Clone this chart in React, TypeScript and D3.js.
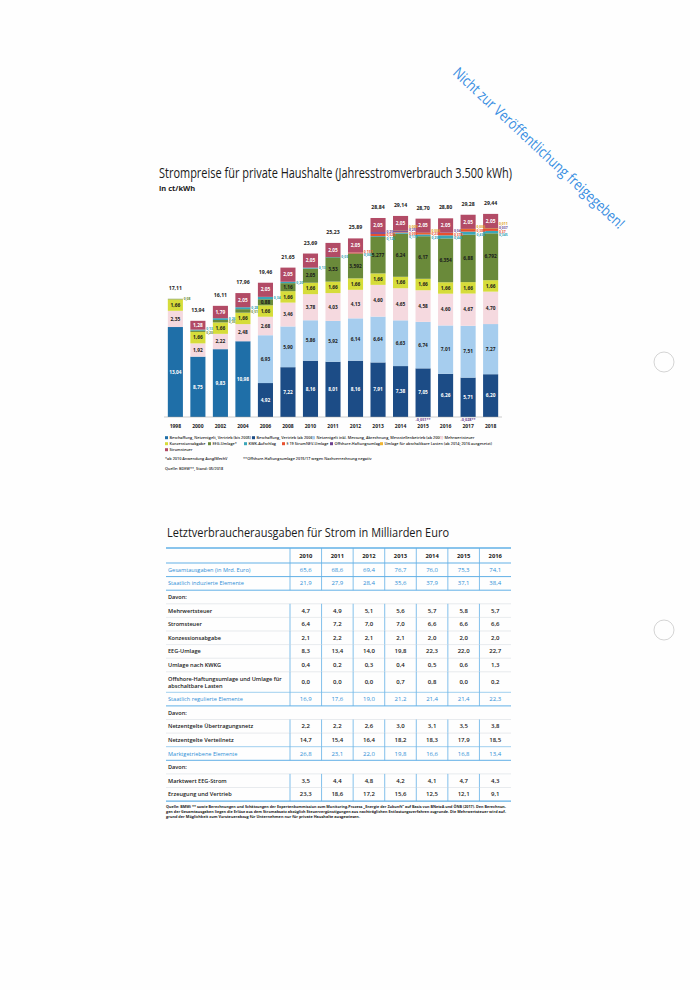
import React from "react";
import * as d3 from "d3";

// ---------- Chart data (ct/kWh) ----------
const years = ["1998","2000","2002","2004","2006","2008","2010","2011","2012","2013","2014","2015","2016","2017","2018"];
const basisBis2005 = [13.04, 8.75, 9.83, 10.98, 0, 0, 0, 0, 0, 0, 0, 0, 0, 0, 0];
const beschaffungAb2006 = [0, 0, 0, 0, 4.92, 7.22, 8.16, 8.01, 8.16, 7.91, 7.38, 7.05, 6.26, 5.71, 6.2];
const netzentgeltAb2006 = [0, 0, 0, 0, 6.93, 5.9, 5.86, 5.92, 6.14, 6.64, 6.63, 6.74, 7.01, 7.51, 7.27];
const mehrwertsteuer = [2.35, 1.92, 2.22, 2.48, 2.68, 3.46, 3.78, 4.03, 4.13, 4.6, 4.65, 4.58, 4.6, 4.67, 4.7];
const konzessionsabgabe = [1.66, 1.66, 1.66, 1.66, 1.66, 1.66, 1.66, 1.66, 1.66, 1.66, 1.66, 1.66, 1.66, 1.66, 1.66];
const eegUmlage = [0.08, 0.2, 0.35, 0.51, 0.88, 1.16, 2.05, 3.53, 3.592, 5.277, 6.24, 6.17, 6.354, 6.88, 6.792];
const kwkAufschlag = [0, 0.13, 0.26, 0.28, 0.34, 0.2, 0.13, 0.03, 0.002, 0.126, 0.178, 0.254, 0.445, 0.438, 0.345];
const stromNevUmlage = [0, 0, 0, 0, 0, 0, 0, 0, 0.151, 0.329, 0.092, 0.237, 0.378, 0.388, 0.37];
const offshoreUmlage = [0, 0, 0, 0, 0, 0, 0, 0, 0, 0.25, 0.25, -0.051, 0.04, -0.028, 0.037];
const abschaltbareLasten = [0, 0, 0, 0, 0, 0, 0, 0, 0, 0, 0.009, 0.006, 0, 0.006, 0.011];
const stromsteuer = [0, 1.28, 1.79, 2.05, 2.05, 2.05, 2.05, 2.05, 2.05, 2.05, 2.05, 2.05, 2.05, 2.05, 2.05];
const totals = [17.11, 13.94, 16.11, 17.96, 19.46, 21.65, 23.69, 25.23, 25.89, 28.84, 29.14, 28.7, 28.8, 29.28, 29.44];

const seriesDefs = [
  { label: "Beschaffung, Netzentgelt, Vertrieb (bis 2005)", values: basisBis2005, color: "#1f6fa8", text: "#ffffff" },
  { label: "Beschaffung, Vertrieb (ab 2006)", values: beschaffungAb2006, color: "#1c4c86", text: "#ffffff" },
  { label: "Netzentgelt inkl. Messung, Abrechnung, Messstellenbetrieb (ab 2006)", values: netzentgeltAb2006, color: "#a6cdee", text: "#1a1a1a" },
  { label: "Mehrwertsteuer", values: mehrwertsteuer, color: "#f5d9df", text: "#1a1a1a" },
  { label: "Konzessionsabgabe", values: konzessionsabgabe, color: "#d6dc3a", text: "#1a1a1a" },
  { label: "EEG-Umlage*", values: eegUmlage, color: "#6a8a3a", text: "#1a1a1a", side: "#6a8a3a" },
  { label: "KWK-Aufschlag", values: kwkAufschlag, color: "#3ba6b8", text: "#1a1a1a", side: "#2f9fb3" },
  { label: "§ 19 StromNEV-Umlage", values: stromNevUmlage, color: "#e8502f", text: "#1a1a1a", side: "#e8502f" },
  { label: "Offshore-Haftungsumlage", values: offshoreUmlage, color: "#6b3f8f", text: "#1a1a1a", side: "#6b3f8f" },
  { label: "Umlage für abschaltbare Lasten (ab 2014; 2016 ausgesetzt)", values: abschaltbareLasten, color: "#f0b531", text: "#1a1a1a", side: "#e0a020" },
  { label: "Stromsteuer", values: stromsteuer, color: "#b24b66", text: "#ffffff" },
];

const legendRows = [[0, 1, 2, 3], [4, 5, 6, 7, 8, 9], [10]];
const legendX = [[165, 252, 312, 440], [165, 208, 244, 282, 330, 380], [165]];

// ---------- Table data (Mrd. Euro) ----------
const tableYears = ["2010", "2011", "2012", "2013", "2014", "2015", "2016"];
const gesamtausgaben = [65.6, 68.6, 69.4, 76.7, 76.0, 75.3, 74.1];
const staatlichInduziert = [21.9, 27.9, 28.4, 35.6, 37.9, 37.1, 38.4];
const mwstMrd = [4.7, 4.9, 5.1, 5.6, 5.7, 5.8, 5.7];
const stromsteuerMrd = [6.4, 7.2, 7.0, 7.0, 6.6, 6.6, 6.6];
const konzessionMrd = [2.1, 2.2, 2.1, 2.1, 2.0, 2.0, 2.0];
const eegMrd = [8.3, 13.4, 14.0, 19.8, 22.3, 22.0, 22.7];
const kwkgMrd = [0.4, 0.2, 0.3, 0.4, 0.5, 0.6, 1.3];
const offshoreMrd = [0.0, 0.0, 0.0, 0.7, 0.8, 0.0, 0.2];
const staatlichReguliert = [16.9, 17.6, 19.0, 21.2, 21.4, 21.4, 22.3];
const uebertragungsnetz = [2.2, 2.2, 2.6, 3.0, 3.1, 3.5, 3.8];
const verteilnetz = [14.7, 15.4, 16.4, 18.2, 18.3, 17.9, 18.5];
const marktgetrieben = [26.8, 23.1, 22.0, 19.8, 16.6, 16.8, 13.4];
const marktwertEeg = [3.5, 4.4, 4.8, 4.2, 4.1, 4.7, 4.3];
const erzeugungVertrieb = [23.3, 18.6, 17.2, 15.6, 12.5, 12.1, 9.1];

type Row = { label: string[]; values?: number[]; kind: "header" | "blue" | "davon" | "normal" };
const tableRows: Row[] = [
  { label: [""], kind: "header" },
  { label: ["Gesamtausgaben (in Mrd. Euro)"], values: gesamtausgaben, kind: "blue" },
  { label: ["Staatlich induzierte Elemente"], values: staatlichInduziert, kind: "blue" },
  { label: ["Davon:"], kind: "davon" },
  { label: ["Mehrwertsteuer"], values: mwstMrd, kind: "normal" },
  { label: ["Stromsteuer"], values: stromsteuerMrd, kind: "normal" },
  { label: ["Konzessionsabgabe"], values: konzessionMrd, kind: "normal" },
  { label: ["EEG-Umlage"], values: eegMrd, kind: "normal" },
  { label: ["Umlage nach KWKG"], values: kwkgMrd, kind: "normal" },
  { label: ["Offshore-Haftungsumlage und Umlage für", "abschaltbare Lasten"], values: offshoreMrd, kind: "normal" },
  { label: ["Staatlich regulierte Elemente"], values: staatlichReguliert, kind: "blue" },
  { label: ["Davon:"], kind: "davon" },
  { label: ["Netzentgelte Übertragungsnetz"], values: uebertragungsnetz, kind: "normal" },
  { label: ["Netzentgelte Verteilnetz"], values: verteilnetz, kind: "normal" },
  { label: ["Marktgetriebene Elemente"], values: marktgetrieben, kind: "blue" },
  { label: ["Davon:"], kind: "davon" },
  { label: ["Marktwert EEG-Strom"], values: marktwertEeg, kind: "normal" },
  { label: ["Erzeugung und Vertrieb"], values: erzeugungVertrieb, kind: "normal" },
];

const sourceLines = [
  "Quelle: BMWi ** sowie Berechnungen und Schätzungen der Expertenkommission zum Monitoring-Prozess „Energie der Zukunft“ auf Basis von BNetzA und ÖNB (2017). Den Berechnun-",
  "gen der Gesamtausgaben liegen die Erlöse aus dem Stromabsatz abzüglich Steuervergünstigungen aus nachträglichen Entlastungsverfahren zugrunde. Die Mehrwertsteuer wird auf-",
  "grund der Möglichkeit zum Vorsteuerabzug für Unternehmen nur für private Haushalte ausgewiesen.",
];

const FONT = "'Open Sans', 'Noto Sans', sans-serif";

function fmtDe(v: number): string {
  const s = String(Math.abs(v));
  const dec = s.includes(".") ? s.split(".")[1].length : 0;
  const d = Math.max(2, dec);
  return (v < 0 ? "-" : "") + Math.abs(v).toFixed(d).replace(".", ",");
}
const fmt1 = (v: number) => v.toFixed(1).replace(".", ",");

export default function App() {
  const x = d3.scaleBand<string>().domain(years).range([164, 502]).paddingInner(0.33).paddingOuter(0.17);
  const y = d3.scaleLinear().domain([0, 30]).range([417, 210]);
  const bw = x.bandwidth();

  const rects: React.ReactNode[] = [];
  const labels: React.ReactNode[] = [];

  years.forEach((yr, i) => {
    const x0 = x(yr)!;
    let cum = 0;
    const small: { v: number; color: string; mid: number }[] = [];
    seriesDefs.forEach((s, si) => {
      const v = s.values[i];
      if (v > 0) {
        const y0 = cum, y1 = cum + v;
        cum = y1;
        rects.push(
          <rect key={`r-${i}-${si}`} x={x0} y={y(y1)} width={bw} height={Math.max(0.4, y(y0) - y(y1))} fill={s.color} />
        );
        if (v >= 0.6) {
          labels.push(
            <text key={`l-${i}-${si}`} x={x0 + bw / 2} y={(y(y0) + y(y1)) / 2 + 1.7} textAnchor="middle"
              fontSize={4.8} fontWeight={700} fill={s.text} fontFamily={FONT}>{fmtDe(v)}</text>
          );
        } else {
          small.push({ v, color: (s as any).side || s.color, mid: (y(y0) + y(y1)) / 2 });
        }
      } else if (v < 0) {
        labels.push(
          <text key={`n-${i}-${si}`} x={x0 + bw / 2} y={421} textAnchor="middle" fontSize={3.8} fontWeight={700}
            fill={(s as any).side || s.color} fontFamily={FONT}>{fmtDe(v) + "**"}</text>
        );
      }
    });
    if (small.length) {
      const center = d3.mean(small, (d) => d.mid)!;
      const n = small.length;
      small.slice().reverse().forEach((d, k) => {
        const yy = center - ((n - 1) * 3.6) / 2 + k * 3.6 + 1.3;
        labels.push(
          <text key={`s-${i}-${k}`} x={x0 + bw + 0.8} y={yy} fontSize={3.4} fontWeight={700} fill={d.color} fontFamily={FONT}>
            {fmtDe(d.v)}
          </text>
        );
      });
    }
    labels.push(
      <text key={`t-${i}`} x={x0 + bw / 2} y={y(totals[i]) - 9} textAnchor="middle" fontSize={5.2} fontWeight={700}
        fill="#222" fontFamily={FONT}>{fmtDe(totals[i])}</text>
    );
    labels.push(
      <text key={`y-${i}`} x={x0 + bw / 2} y={428} textAnchor="middle" fontSize={5} fontWeight={700} fill="#222" fontFamily={FONT}>{yr}</text>
    );
  });

  // table layout
  const rowHeights = tableRows.map((r) => (r.kind === "header" ? 15 : r.label.length > 1 ? 20.5 : 13.6));
  const tableTop = 548;
  const rowTops = [tableTop, ...Array.from(d3.cumsum(rowHeights)).map((h) => tableTop + h)];
  const cx = d3.scaleBand<string>().domain(tableYears).range([290, 511]);
  const blue = "#2f8fd6";
  const lineBlue = "#62b0e6";

  const tableEls: React.ReactNode[] = [];
  tableRows.forEach((r, ri) => {
    const top = rowTops[ri], bot = rowTops[ri + 1], mid = (top + bot) / 2;
    if (r.kind !== "davon") {
      [290, ...tableYears.map((t) => cx(t)! + cx.bandwidth())].forEach((lx, k) => {
        if (k < tableYears.length) tableEls.push(<line key={`v-${ri}-${k}`} x1={lx} x2={lx} y1={top} y2={bot} stroke={lineBlue} strokeWidth={0.8} />);
      });
    }
    const textColor = r.kind === "blue" ? blue : "#1a1a1a";
    r.label.forEach((ln, li) => {
      const ly = mid + 2 + (li - (r.label.length - 1) / 2) * 7;
      tableEls.push(<text key={`tl-${ri}-${li}`} x={168} y={ly} fontSize={5.6} fontWeight={r.kind === "blue" ? 400 : 600}
        fill={textColor} fontFamily={FONT}>{ln}</text>);
    });
    if (r.kind === "header") {
      tableYears.forEach((t) => tableEls.push(
        <text key={`th-${t}`} x={cx(t)! + cx.bandwidth() / 2} y={mid + 2} textAnchor="middle" fontSize={5.8} fontWeight={700} fill="#1a1a1a" fontFamily={FONT}>{t}</text>
      ));
    }
    if (r.values) {
      r.values.forEach((v, k) => tableEls.push(
        <text key={`tv-${ri}-${k}`} x={cx(tableYears[k])! + cx.bandwidth() / 2} y={mid + 2} textAnchor="middle" fontSize={6}
          fontWeight={r.kind === "blue" ? 400 : 600} fill={textColor} fontFamily={FONT}>{fmt1(v)}</text>
      ));
    }
    const isBlueBorder = r.kind === "blue" || ri === 0;
    tableEls.push(<line key={`h-${ri}`} x1={166} x2={511} y1={bot} y2={bot}
      stroke={r.kind === "blue" || (ri + 1 < tableRows.length && tableRows[ri + 1].kind === "blue") || ri === tableRows.length - 1 ? lineBlue : "#d8dde2"}
      strokeWidth={ri === tableRows.length - 1 ? 1.4 : isBlueBorder ? 1 : 0.6} />);
  });
  tableEls.push(<line key="htop" x1={166} x2={511} y1={tableTop} y2={tableTop} stroke={lineBlue} strokeWidth={1.4} />);

  return (
    <div style={{ position: "absolute", left: 0, top: 0 }}>
      <svg width={700} height={990} viewBox="0 0 700 990" style={{ display: "block", background: "#ffffff" }}>
        <rect x={0} y={0} width={700} height={990} fill="#fefefe" />
        {/* punch holes */}
        <circle cx={664} cy={362} r={10} fill="none" stroke="#c9c9c9" strokeWidth={0.8} />
        <circle cx={664} cy={630} r={10} fill="none" stroke="#c9c9c9" strokeWidth={0.8} />

        {/* watermark */}
        <text x={452} y={74} transform="rotate(43 452 74)" fontSize={15} fill="#3a8fe2" fontFamily={FONT}
          textLength={228} lengthAdjust="spacingAndGlyphs">
          Nicht zur Veröffentlichung freigegeben!
        </text>

        {/* chart title */}
        <text x={159} y={178} fontSize={14} fill="#1a1a1a" fontFamily={FONT} textLength={353} lengthAdjust="spacingAndGlyphs">
          Strompreise für private Haushalte (Jahresstromverbrauch 3.500 kWh)
        </text>
        <text x={159} y={191} fontSize={7.5} fontWeight={700} fill="#1a1a1a" fontFamily={FONT}>in ct/kWh</text>

        {rects}
        <line x1={164} x2={502} y1={y(0)} y2={y(0)} stroke="#999" strokeWidth={0.5} />
        {labels}

        {/* legend */}
        {legendRows.map((row, ri) => row.map((si, k) => {
          const lx = legendX[ri][k];
          const ly = 439 + ri * 6;
          return (
            <g key={`lg-${si}`}>
              <rect x={lx} y={ly - 2.8} width={3} height={3} fill={seriesDefs[si].color} />
              <text x={lx + 4.5} y={ly} fontSize={3.8} fontWeight={600} fill="#222" fontFamily={FONT}>{seriesDefs[si].label}</text>
            </g>
          );
        }))}
        <text x={165} y={460} fontSize={3.8} fontWeight={600} fill="#222" fontFamily={FONT}>*ab 2010 Anwendung AusglMechV</text>
        <text x={243} y={460} fontSize={3.8} fontWeight={600} fill="#222" fontFamily={FONT}>**Offshore-Haftungsumlage 2015/17 wegen Nachverrechnung negativ</text>
        <text x={165} y={470} fontSize={3.8} fontWeight={600} fill="#222" fontFamily={FONT}>Quelle: BDEW**, Stand: 05/2018</text>

        {/* table */}
        <text x={167} y={537} fontSize={13} fill="#1a1a1a" fontFamily={FONT} textLength={282} lengthAdjust="spacingAndGlyphs">
          Letztverbraucherausgaben für Strom in Milliarden Euro
        </text>
        {tableEls}
        {sourceLines.map((ln, i) => (
          <text key={`src-${i}`} x={166} y={808 + i * 5.2} fontSize={4} fontWeight={700} fill="#222" fontFamily={FONT}
            textLength={i < 2 ? 340 : 194} lengthAdjust="spacingAndGlyphs">{ln}</text>
        ))}
      </svg>
    </div>
  );
}
